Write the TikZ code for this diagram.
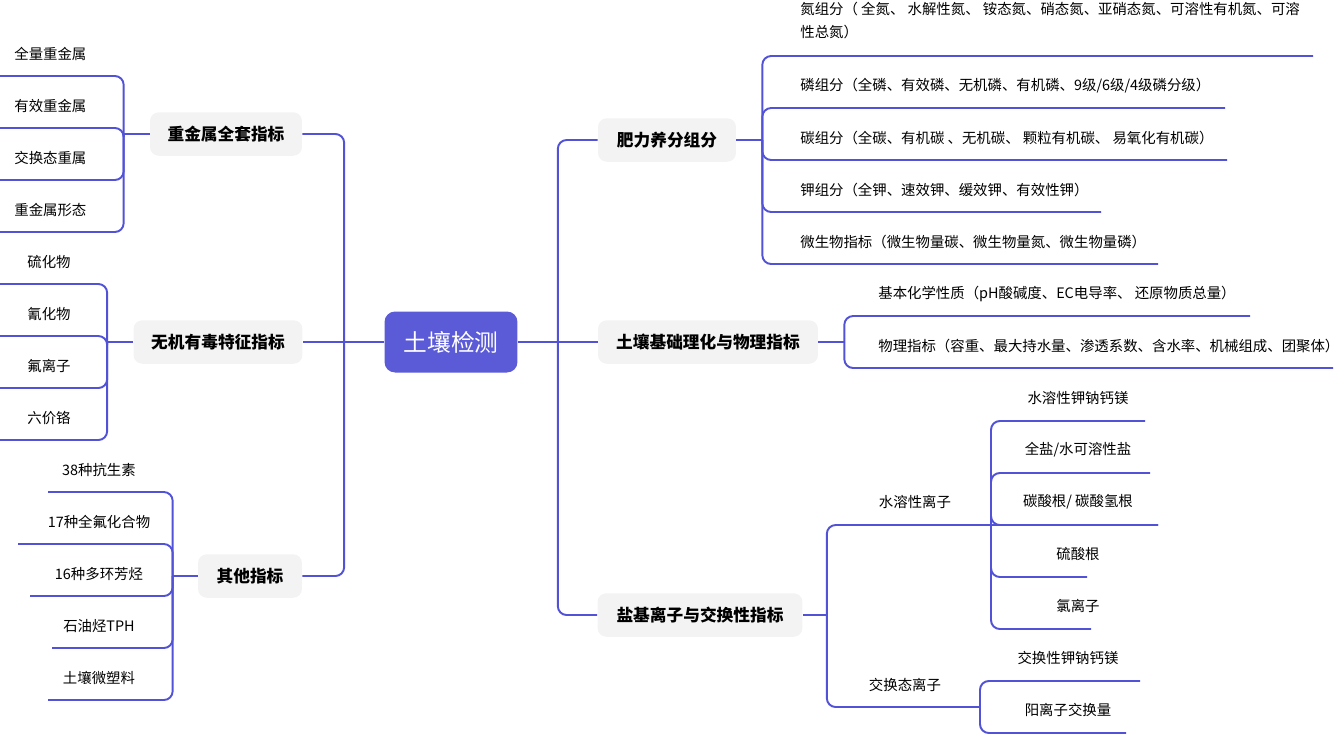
\documentclass[tikz,border=0pt]{standalone}
\usepackage{fontspec}
\setmainfont{Noto Sans CJK SC}
\usetikzlibrary{positioning}
\definecolor{linkblue}{HTML}{5252D6}
\definecolor{rootblue}{HTML}{5B5BD8}
\definecolor{topgray}{HTML}{F3F3F3}
\tikzset{
    link/.style={draw=linkblue, line width=1.1pt, rounded corners=5pt},
    root/.style={rectangle, rounded corners=6pt, fill=rootblue, text=white, minimum width=2.66cm, minimum height=1.22cm, font=\fontsize{13.5}{16}\selectfont},
    topic/.style={rectangle, rounded corners=5pt, fill=topgray, minimum height=0.87cm, inner xsep=8pt, font=\fontsize{9.5}{12}\selectfont\bfseries},
    leaf/.style={inner sep=0pt, font=\fontsize{8.2}{13}\selectfont, align=left}
}
\begin{document}
\begin{tikzpicture}[x=0.02cm, y=-0.02cm]
    \useasboundingbox (0,0) rectangle (1338,738);
    % centre and main topics
    \node[root] (root) at (451,342) {土壤检测};
    \node[topic, minimum width=3.04cm] (hm) at (226,134) {重金属全套指标};
    \node[topic, minimum width=3.38cm] (tox) at (218,342) {无机有毒特征指标};
    \node[topic, minimum width=2.08cm] (oth) at (250,576) {其他指标};
    \node[topic, minimum width=2.76cm] (fer) at (667,140) {肥力养分组分};
    \node[topic, minimum width=4.4cm] (phy) at (708,342) {土壤基础理化与物理指标};
    \node[topic, minimum width=4.1cm] (salt) at (700,615) {盐基离子与交换性指标};

    \draw[link] (root.west) -- ++(-40,0) coordinate (lj) -- (tox.east);
    \draw[link] (lj) |- (hm.east);
    \draw[link] (lj) |- (oth.east);
    \draw[link] (root.east) -- ++(40,0) coordinate (rj) -- (phy.west);
    \draw[link] (rj) |- (fer.west);
    \draw[link] (rj) |- (salt.west);

    % heavy metals
    \draw[link] (hm.west) -- ++(-26,0) coordinate (hmj);
    \foreach \txt/\y in {全量重金属/54, 有效重金属/106, 交换态重属/158, 重金属形态/210}{
        \node[leaf, anchor=west] (hm\y) at (14,\y) {\txt};
        \coordinate (hmu\y) at (0,\y+22);
        \draw[link] (hmj) |- (hmu\y);
    }
    % inorganic toxics
    \draw[link] (tox.west) -- ++(-26,0) coordinate (txj);
    \foreach \txt/\y in {硫化物/262, 氰化物/314, 氟离子/366, 六价铬/418}{
        \node[leaf, anchor=west] (tx\y) at (27,\y) {\txt};
        \coordinate (txu\y) at (0,\y+22);
        \draw[link] (txj) |- (txu\y);
    }
    % others
    \draw[link] (oth.west) -- ++(-25,0) coordinate (otj);
    \foreach \txt/\y/\e in {38种抗生素/470/48, 17种全氟化合物/522/18, 16种多环芳烃/574/30, 石油烃TPH/626/52, 土壤微塑料/678/48}{
        \node[leaf] (ot\y) at (99,\y) {\txt};
        \coordinate (otu\y) at (\e,\y+22);
        \draw[link] (otj) |- (otu\y);
    }

    % fertility
    \draw[link] (fer.east) -- ++(26,0) coordinate (fej);
    \node[leaf, anchor=north west] (fn) at (800,2) {氮组分（ 全氮、 水解性氮、 铵态氮、硝态氮、亚硝态氮、可溶性有机氮、可溶\\性总氮）};
    \coordinate (fnu) at (1313,56);
    \draw[link] (fej) |- (fnu);
    \foreach \txt/\y/\e in {{磷组分（全磷、有效磷、无机磷、有机磷、9级/6级/4级磷分级）}/86/1225,
        {碳组分（全碳、有机碳 、无机碳、 颗粒有机碳、 易氧化有机碳）}/138/1227,
        {钾组分（全钾、速效钾、缓效钾、有效性钾）}/190/1101,
        {微生物指标（微生物量碳、微生物量氮、微生物量磷）}/242/1158}{
        \node[leaf, anchor=west] (fe\y) at (800,\y) {\txt};
        \coordinate (feu\y) at (\e,\y+22);
        \draw[link] (fej) |- (feu\y);
    }

    % physical / chemical
    \draw[link] (phy.east) -- ++(26,0) coordinate (phj);
    \foreach \txt/\y/\e in {{基本化学性质（pH酸碱度、EC电导率、 还原物质总量）}/294/1250,
        {物理指标（容重、最大持水量、渗透系数、含水率、机械组成、团聚体）}/346/1333}{
        \node[leaf, anchor=west] (ph\y) at (878,\y) {\txt};
        \coordinate (phu\y) at (\e,\y+22);
        \draw[link] (phj) |- (phu\y);
    }

    % salt and exchange
    \draw[link] (salt.east) -- ++(24,0) coordinate (saj);
    \node[leaf] (ws) at (915,502) {水溶性离子};
    \node[leaf] (ex) at (905,685) {交换态离子};
    \coordinate (wsu) at (1158,525);
    \coordinate (wsj) at (991,525);
    \coordinate (exu) at (980,707);
    \draw[link] (saj) |- (wsu);
    \draw[link] (saj) |- (exu);
    \foreach \txt/\y/\e in {水溶性钾钠钙镁/398/1145, {全盐/水可溶性盐}/450/1150, {碳酸根/ 碳酸氢根}/502/1158, 硫酸根/554/1087, 氯离子/606/1091}{
        \node[leaf] (wi\y) at (1078,\y) {\txt};
        \coordinate (wiu\y) at (\e,\y+23);
        \draw[link] (wsj) |- (wiu\y);
    }
    \foreach \txt/\y/\e in {交换性钾钠钙镁/658/1140, 阳离子交换量/710/1126}{
        \node[leaf] (ei\y) at (1068,\y) {\txt};
        \coordinate (eiu\y) at (\e,\y+23);
        \draw[link] (exu) |- (eiu\y);
    }
\end{tikzpicture}
\end{document}
